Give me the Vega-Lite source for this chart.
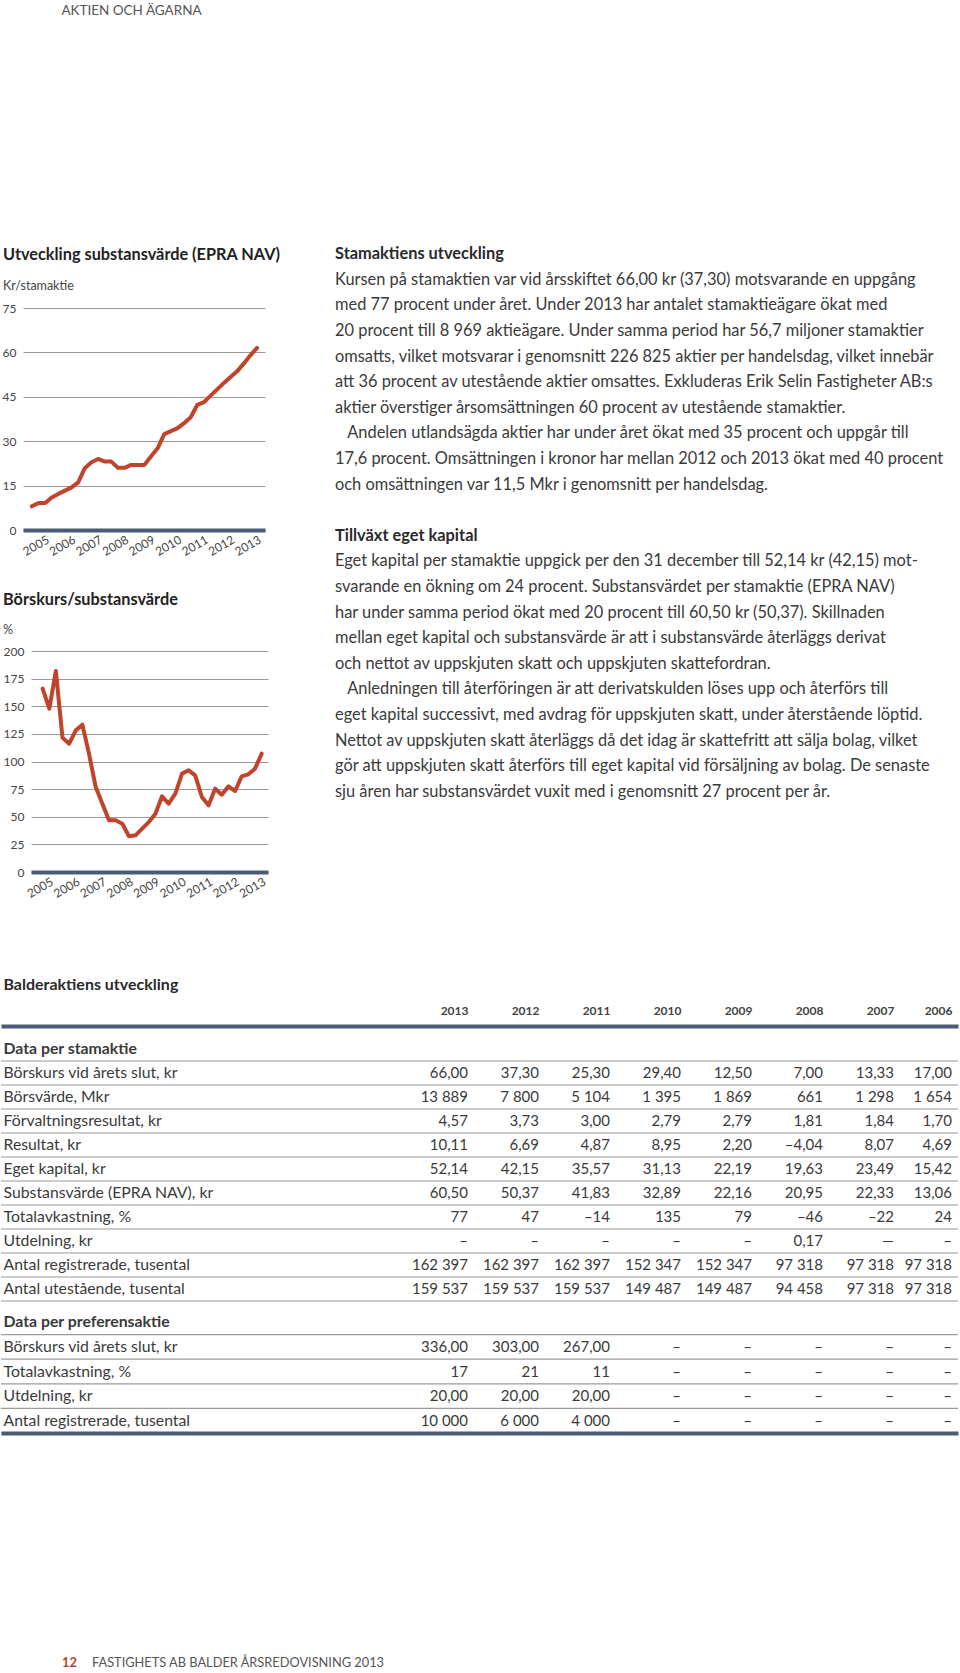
{
  "$schema": "https://vega.github.io/schema/vega-lite/v6.json",
  "padding": {"left": 0, "top": 3, "right": 0, "bottom": 0},
  "background": "white",
  "title": {"text": "AKTIEN OCH ÄGARNA", "anchor": "start", "frame": "bounds", "dx": 61, "fontSize": 13.5, "fontWeight": "normal", "color": "#555555", "offset": 229},
  "config": {
    "font": "Lato",
    "view": {"stroke": null},
    "axis": {"labelColor": "#444444"}
  },
  "datasets": {
    "nav": [
      {"date": "2005-06-30", "value": 8.0}, {"date": "2005-09-30", "value": 9.1}, {"date": "2005-12-31", "value": 9.1},
      {"date": "2006-03-31", "value": 11.0}, {"date": "2006-06-30", "value": 12.2}, {"date": "2006-09-30", "value": 13.3}, {"date": "2006-12-31", "value": 14.4},
      {"date": "2007-03-31", "value": 16.1}, {"date": "2007-06-30", "value": 20.9}, {"date": "2007-09-30", "value": 22.9}, {"date": "2007-12-31", "value": 24.0},
      {"date": "2008-03-31", "value": 23.1}, {"date": "2008-06-30", "value": 23.1}, {"date": "2008-09-30", "value": 21.0}, {"date": "2008-12-31", "value": 21.0},
      {"date": "2009-03-31", "value": 22.0}, {"date": "2009-06-30", "value": 22.0}, {"date": "2009-09-30", "value": 22.0}, {"date": "2009-12-31", "value": 24.9},
      {"date": "2010-03-31", "value": 27.6}, {"date": "2010-06-30", "value": 32.4}, {"date": "2010-09-30", "value": 33.4}, {"date": "2010-12-31", "value": 34.4},
      {"date": "2011-03-31", "value": 36.1}, {"date": "2011-06-30", "value": 38.1}, {"date": "2011-09-30", "value": 42.3}, {"date": "2011-12-31", "value": 43.2},
      {"date": "2012-03-31", "value": 45.4}, {"date": "2012-06-30", "value": 47.5}, {"date": "2012-09-30", "value": 49.7}, {"date": "2012-12-31", "value": 51.7},
      {"date": "2013-03-31", "value": 53.6}, {"date": "2013-06-30", "value": 56.2}, {"date": "2013-09-30", "value": 59.0}, {"date": "2013-12-31", "value": 61.5}
    ],
    "pnav": [
      {"date": "2005-09-30", "value": 165.9}, {"date": "2005-12-31", "value": 147.8},
      {"date": "2006-03-31", "value": 181.9}, {"date": "2006-06-30", "value": 121.6}, {"date": "2006-09-30", "value": 116.1}, {"date": "2006-12-31", "value": 128.2},
      {"date": "2007-03-31", "value": 133.3}, {"date": "2007-06-30", "value": 107.1}, {"date": "2007-09-30", "value": 76.9}, {"date": "2007-12-31", "value": 61.8},
      {"date": "2008-03-31", "value": 46.8}, {"date": "2008-06-30", "value": 46.8}, {"date": "2008-09-30", "value": 43.7}, {"date": "2008-12-31", "value": 32.3},
      {"date": "2009-03-31", "value": 33.2}, {"date": "2009-06-30", "value": 39.2}, {"date": "2009-09-30", "value": 45.2}, {"date": "2009-12-31", "value": 52.8},
      {"date": "2010-03-31", "value": 68.5}, {"date": "2010-06-30", "value": 61.8}, {"date": "2010-09-30", "value": 70.9}, {"date": "2010-12-31", "value": 89.0},
      {"date": "2011-03-31", "value": 92.0}, {"date": "2011-06-30", "value": 87.5}, {"date": "2011-09-30", "value": 67.9}, {"date": "2011-12-31", "value": 60.3},
      {"date": "2012-03-31", "value": 75.4}, {"date": "2012-06-30", "value": 70.0}, {"date": "2012-09-30", "value": 77.5}, {"date": "2012-12-31", "value": 73.3},
      {"date": "2013-03-31", "value": 86.6}, {"date": "2013-06-30", "value": 88.4}, {"date": "2013-09-30", "value": 93.5}, {"date": "2013-12-31", "value": 107.1}
    ],
    "text": [
      {"line": 0, "kind": "heading", "content": "Stamaktiens utveckling"},
      {"line": 1, "kind": "body", "content": "Kursen på stamaktien var vid årsskiftet 66,00 kr (37,30) motsvarande en uppgång"},
      {"line": 2, "kind": "body", "content": "med 77 procent under året. Under 2013 har antalet stamaktieägare ökat med"},
      {"line": 3, "kind": "body", "content": "20 procent till 8 969 aktieägare. Under samma period har 56,7 miljoner stamaktier"},
      {"line": 4, "kind": "body", "content": "omsatts, vilket motsvarar i genomsnitt 226 825 aktier per handelsdag, vilket innebär"},
      {"line": 5, "kind": "body", "content": "att 36 procent av utestående aktier omsattes. Exkluderas Erik Selin Fastigheter AB:s"},
      {"line": 6, "kind": "body", "content": "aktier överstiger årsomsättningen 60 procent av utestående stamaktier."},
      {"line": 7, "kind": "body", "content": "\u200b\u2003Andelen utlandsägda aktier har under året ökat med 35 procent och uppgår till"},
      {"line": 8, "kind": "body", "content": "17,6 procent. Omsättningen i kronor har mellan 2012 och 2013 ökat med 40 procent"},
      {"line": 9, "kind": "body", "content": "och omsättningen var 11,5 Mkr i genomsnitt per handelsdag."},
      {"line": 11, "kind": "heading", "content": "Tillväxt eget kapital"},
      {"line": 12, "kind": "body", "content": "Eget kapital per stamaktie uppgick per den 31 december till 52,14 kr (42,15) mot-"},
      {"line": 13, "kind": "body", "content": "svarande en ökning om 24 procent. Substansvärdet per stamaktie (EPRA NAV)"},
      {"line": 14, "kind": "body", "content": "har under samma period ökat med 20 procent till 60,50 kr (50,37). Skillnaden"},
      {"line": 15, "kind": "body", "content": "mellan eget kapital och substansvärde är att i substansvärde återläggs derivat"},
      {"line": 16, "kind": "body", "content": "och nettot av uppskjuten skatt och uppskjuten skattefordran."},
      {"line": 17, "kind": "body", "content": "\u200b\u2003Anledningen till återföringen är att derivatskulden löses upp och återförs till"},
      {"line": 18, "kind": "body", "content": "eget kapital successivt, med avdrag för uppskjuten skatt, under återstående löptid."},
      {"line": 19, "kind": "body", "content": "Nettot av uppskjuten skatt återläggs då det idag är skattefritt att sälja bolag, vilket"},
      {"line": 20, "kind": "body", "content": "gör att uppskjuten skatt återförs till eget kapital vid försäljning av bolag. De senaste"},
      {"line": 21, "kind": "body", "content": "sju åren har substansvärdet vuxit med i genomsnitt 27 procent per år."}
    ],
    "stamRows": [
      {"row": "Data per stamaktie"}, {"row": "Börskurs vid årets slut, kr"}, {"row": "Börsvärde, Mkr"}, {"row": "Förvaltningsresultat, kr"},
      {"row": "Resultat, kr"}, {"row": "Eget kapital, kr"}, {"row": "Substansvärde (EPRA NAV), kr"}, {"row": "Totalavkastning, %"},
      {"row": "Utdelning, kr"}, {"row": "Antal registrerade, tusental"}, {"row": "Antal utestående, tusental"}
    ],
    "stam": [
      {"row": "Börskurs vid årets slut, kr", "year": 2013, "value": "66,00"}, {"row": "Börskurs vid årets slut, kr", "year": 2012, "value": "37,30"},
      {"row": "Börskurs vid årets slut, kr", "year": 2011, "value": "25,30"}, {"row": "Börskurs vid årets slut, kr", "year": 2010, "value": "29,40"},
      {"row": "Börskurs vid årets slut, kr", "year": 2009, "value": "12,50"}, {"row": "Börskurs vid årets slut, kr", "year": 2008, "value": "7,00"},
      {"row": "Börskurs vid årets slut, kr", "year": 2007, "value": "13,33"}, {"row": "Börskurs vid årets slut, kr", "year": 2006, "value": "17,00"},
      {"row": "Börsvärde, Mkr", "year": 2013, "value": "13 889"}, {"row": "Börsvärde, Mkr", "year": 2012, "value": "7 800"},
      {"row": "Börsvärde, Mkr", "year": 2011, "value": "5 104"}, {"row": "Börsvärde, Mkr", "year": 2010, "value": "1 395"},
      {"row": "Börsvärde, Mkr", "year": 2009, "value": "1 869"}, {"row": "Börsvärde, Mkr", "year": 2008, "value": "661"},
      {"row": "Börsvärde, Mkr", "year": 2007, "value": "1 298"}, {"row": "Börsvärde, Mkr", "year": 2006, "value": "1 654"},
      {"row": "Förvaltningsresultat, kr", "year": 2013, "value": "4,57"}, {"row": "Förvaltningsresultat, kr", "year": 2012, "value": "3,73"},
      {"row": "Förvaltningsresultat, kr", "year": 2011, "value": "3,00"}, {"row": "Förvaltningsresultat, kr", "year": 2010, "value": "2,79"},
      {"row": "Förvaltningsresultat, kr", "year": 2009, "value": "2,79"}, {"row": "Förvaltningsresultat, kr", "year": 2008, "value": "1,81"},
      {"row": "Förvaltningsresultat, kr", "year": 2007, "value": "1,84"}, {"row": "Förvaltningsresultat, kr", "year": 2006, "value": "1,70"},
      {"row": "Resultat, kr", "year": 2013, "value": "10,11"}, {"row": "Resultat, kr", "year": 2012, "value": "6,69"},
      {"row": "Resultat, kr", "year": 2011, "value": "4,87"}, {"row": "Resultat, kr", "year": 2010, "value": "8,95"},
      {"row": "Resultat, kr", "year": 2009, "value": "2,20"}, {"row": "Resultat, kr", "year": 2008, "value": "–4,04"},
      {"row": "Resultat, kr", "year": 2007, "value": "8,07"}, {"row": "Resultat, kr", "year": 2006, "value": "4,69"},
      {"row": "Eget kapital, kr", "year": 2013, "value": "52,14"}, {"row": "Eget kapital, kr", "year": 2012, "value": "42,15"},
      {"row": "Eget kapital, kr", "year": 2011, "value": "35,57"}, {"row": "Eget kapital, kr", "year": 2010, "value": "31,13"},
      {"row": "Eget kapital, kr", "year": 2009, "value": "22,19"}, {"row": "Eget kapital, kr", "year": 2008, "value": "19,63"},
      {"row": "Eget kapital, kr", "year": 2007, "value": "23,49"}, {"row": "Eget kapital, kr", "year": 2006, "value": "15,42"},
      {"row": "Substansvärde (EPRA NAV), kr", "year": 2013, "value": "60,50"}, {"row": "Substansvärde (EPRA NAV), kr", "year": 2012, "value": "50,37"},
      {"row": "Substansvärde (EPRA NAV), kr", "year": 2011, "value": "41,83"}, {"row": "Substansvärde (EPRA NAV), kr", "year": 2010, "value": "32,89"},
      {"row": "Substansvärde (EPRA NAV), kr", "year": 2009, "value": "22,16"}, {"row": "Substansvärde (EPRA NAV), kr", "year": 2008, "value": "20,95"},
      {"row": "Substansvärde (EPRA NAV), kr", "year": 2007, "value": "22,33"}, {"row": "Substansvärde (EPRA NAV), kr", "year": 2006, "value": "13,06"},
      {"row": "Totalavkastning, %", "year": 2013, "value": "77"}, {"row": "Totalavkastning, %", "year": 2012, "value": "47"},
      {"row": "Totalavkastning, %", "year": 2011, "value": "–14"}, {"row": "Totalavkastning, %", "year": 2010, "value": "135"},
      {"row": "Totalavkastning, %", "year": 2009, "value": "79"}, {"row": "Totalavkastning, %", "year": 2008, "value": "–46"},
      {"row": "Totalavkastning, %", "year": 2007, "value": "–22"}, {"row": "Totalavkastning, %", "year": 2006, "value": "24"},
      {"row": "Utdelning, kr", "year": 2013, "value": "–"}, {"row": "Utdelning, kr", "year": 2012, "value": "–"},
      {"row": "Utdelning, kr", "year": 2011, "value": "–"}, {"row": "Utdelning, kr", "year": 2010, "value": "–"},
      {"row": "Utdelning, kr", "year": 2009, "value": "–"}, {"row": "Utdelning, kr", "year": 2008, "value": "0,17"},
      {"row": "Utdelning, kr", "year": 2007, "value": "—"}, {"row": "Utdelning, kr", "year": 2006, "value": "–"},
      {"row": "Antal registrerade, tusental", "year": 2013, "value": "162 397"}, {"row": "Antal registrerade, tusental", "year": 2012, "value": "162 397"},
      {"row": "Antal registrerade, tusental", "year": 2011, "value": "162 397"}, {"row": "Antal registrerade, tusental", "year": 2010, "value": "152 347"},
      {"row": "Antal registrerade, tusental", "year": 2009, "value": "152 347"}, {"row": "Antal registrerade, tusental", "year": 2008, "value": "97 318"},
      {"row": "Antal registrerade, tusental", "year": 2007, "value": "97 318"}, {"row": "Antal registrerade, tusental", "year": 2006, "value": "97 318"},
      {"row": "Antal utestående, tusental", "year": 2013, "value": "159 537"}, {"row": "Antal utestående, tusental", "year": 2012, "value": "159 537"},
      {"row": "Antal utestående, tusental", "year": 2011, "value": "159 537"}, {"row": "Antal utestående, tusental", "year": 2010, "value": "149 487"},
      {"row": "Antal utestående, tusental", "year": 2009, "value": "149 487"}, {"row": "Antal utestående, tusental", "year": 2008, "value": "94 458"},
      {"row": "Antal utestående, tusental", "year": 2007, "value": "97 318"}, {"row": "Antal utestående, tusental", "year": 2006, "value": "97 318"}
    ],
    "prefRows": [
      {"row": "Data per preferensaktie"}, {"row": "Börskurs vid årets slut, kr"}, {"row": "Totalavkastning, %"},
      {"row": "Utdelning, kr"}, {"row": "Antal registrerade, tusental"}
    ],
    "pref": [
      {"row": "Börskurs vid årets slut, kr", "year": 2013, "value": "336,00"}, {"row": "Börskurs vid årets slut, kr", "year": 2012, "value": "303,00"},
      {"row": "Börskurs vid årets slut, kr", "year": 2011, "value": "267,00"}, {"row": "Börskurs vid årets slut, kr", "year": 2010, "value": "–"},
      {"row": "Börskurs vid årets slut, kr", "year": 2009, "value": "–"}, {"row": "Börskurs vid årets slut, kr", "year": 2008, "value": "–"},
      {"row": "Börskurs vid årets slut, kr", "year": 2007, "value": "–"}, {"row": "Börskurs vid årets slut, kr", "year": 2006, "value": "–"},
      {"row": "Totalavkastning, %", "year": 2013, "value": "17"}, {"row": "Totalavkastning, %", "year": 2012, "value": "21"},
      {"row": "Totalavkastning, %", "year": 2011, "value": "11"}, {"row": "Totalavkastning, %", "year": 2010, "value": "–"},
      {"row": "Totalavkastning, %", "year": 2009, "value": "–"}, {"row": "Totalavkastning, %", "year": 2008, "value": "–"},
      {"row": "Totalavkastning, %", "year": 2007, "value": "–"}, {"row": "Totalavkastning, %", "year": 2006, "value": "–"},
      {"row": "Utdelning, kr", "year": 2013, "value": "20,00"}, {"row": "Utdelning, kr", "year": 2012, "value": "20,00"},
      {"row": "Utdelning, kr", "year": 2011, "value": "20,00"}, {"row": "Utdelning, kr", "year": 2010, "value": "–"},
      {"row": "Utdelning, kr", "year": 2009, "value": "–"}, {"row": "Utdelning, kr", "year": 2008, "value": "–"},
      {"row": "Utdelning, kr", "year": 2007, "value": "–"}, {"row": "Utdelning, kr", "year": 2006, "value": "–"},
      {"row": "Antal registrerade, tusental", "year": 2013, "value": "10 000"}, {"row": "Antal registrerade, tusental", "year": 2012, "value": "6 000"},
      {"row": "Antal registrerade, tusental", "year": 2011, "value": "4 000"}, {"row": "Antal registrerade, tusental", "year": 2010, "value": "–"},
      {"row": "Antal registrerade, tusental", "year": 2009, "value": "–"}, {"row": "Antal registrerade, tusental", "year": 2008, "value": "–"},
      {"row": "Antal registrerade, tusental", "year": 2007, "value": "–"}, {"row": "Antal registrerade, tusental", "year": 2006, "value": "–"}
    ],
    "footer": [
      {"part": "page", "label": "12"},
      {"part": "name", "label": "FASTIGHETS AB BALDER ÅRSREDOVISNING 2013"}
    ]
  },
  "columns": 1,
  "align": "none",
  "spacing": 222,
  "concat": [
    {
      "columns": 1,
      "align": "none",
      "spacing": 77,
      "concat": [
        {
          "align": "none",
          "spacing": 54,
          "concat": [
            {
              "columns": 1,
              "align": "none",
              "spacing": 34,
              "concat": [
                {
                  "width": 264,
                  "height": 222,
                  "title": {"text": "Utveckling substansvärde (EPRA NAV)", "subtitle": "Kr/stamaktie", "anchor": "start", "frame": "bounds", "dx": 2, "fontSize": 16.3, "fontWeight": "bold", "color": "#222222", "subtitleFontSize": 12.5, "subtitleColor": "#444444", "subtitlePadding": 16, "offset": 10},
                  "data": {"name": "nav"},
                  "mark": {"type": "line", "color": "#c0432b", "strokeWidth": 4, "strokeJoin": "round", "strokeCap": "round"},
                  "encoding": {
                    "x": {
                      "field": "date", "type": "temporal",
                      "scale": {"type": "utc", "nice": false, "range": [22, 264], "domain": [{"year": 2005, "month": 2, "date": 28, "utc": true}, {"year": 2014, "month": 4, "date": 20, "utc": true}]},
                      "axis": {"title": null, "labelExpr": "utcFormat(datum.value, '%Y')", "labelOverlap": false, "labelAngle": -30, "labelFontSize": 12, "ticks": false, "grid": false, "domainColor": "#4b5a75", "domainWidth": 4, "labelPadding": 4, "zindex": 1,
                        "values": [{"year": 2005, "month": 12, "date": 31, "utc": true}, {"year": 2006, "month": 12, "date": 31, "utc": true}, {"year": 2007, "month": 12, "date": 31, "utc": true}, {"year": 2008, "month": 12, "date": 31, "utc": true}, {"year": 2009, "month": 12, "date": 31, "utc": true}, {"year": 2010, "month": 12, "date": 31, "utc": true}, {"year": 2011, "month": 12, "date": 31, "utc": true}, {"year": 2012, "month": 12, "date": 31, "utc": true}, {"year": 2013, "month": 12, "date": 31, "utc": true}]}
                    },
                    "y": {
                      "field": "value", "type": "quantitative",
                      "scale": {"domain": [0, 75], "nice": false},
                      "axis": {"title": null, "values": [0, 15, 30, 45, 60, 75], "grid": true, "gridColor": "#9a9a9a", "domain": false, "ticks": false, "labelAlign": "right", "labelPadding": -15, "labelFontSize": 12}
                    }
                  }
                },
                {
                  "width": 267,
                  "height": 221,
                  "title": {"text": "Börskurs/substansvärde", "subtitle": "%", "anchor": "start", "frame": "bounds", "dx": 2, "fontSize": 16.3, "fontWeight": "bold", "color": "#222222", "subtitleFontSize": 12.5, "subtitleColor": "#444444", "subtitlePadding": 15, "offset": 9},
                  "data": {"name": "pnav"},
                  "mark": {"type": "line", "color": "#c0432b", "strokeWidth": 4, "strokeJoin": "round", "strokeCap": "round"},
                  "encoding": {
                    "x": {
                      "field": "date", "type": "temporal",
                      "scale": {"type": "utc", "nice": false, "range": [30, 267], "domain": [{"year": 2005, "month": 4, "date": 23, "utc": true}, {"year": 2014, "month": 3, "date": 28, "utc": true}]},
                      "axis": {"title": null, "labelExpr": "utcFormat(datum.value, '%Y')", "labelOverlap": false, "labelAngle": -30, "labelFontSize": 12, "ticks": false, "grid": false, "domainColor": "#4b5a75", "domainWidth": 4, "labelPadding": 4, "zindex": 1,
                        "values": [{"year": 2005, "month": 12, "date": 31, "utc": true}, {"year": 2006, "month": 12, "date": 31, "utc": true}, {"year": 2007, "month": 12, "date": 31, "utc": true}, {"year": 2008, "month": 12, "date": 31, "utc": true}, {"year": 2009, "month": 12, "date": 31, "utc": true}, {"year": 2010, "month": 12, "date": 31, "utc": true}, {"year": 2011, "month": 12, "date": 31, "utc": true}, {"year": 2012, "month": 12, "date": 31, "utc": true}, {"year": 2013, "month": 12, "date": 31, "utc": true}]}
                    },
                    "y": {
                      "field": "value", "type": "quantitative",
                      "scale": {"domain": [0, 200], "nice": false},
                      "axis": {"title": null, "values": [0, 25, 50, 75, 100, 125, 150, 175, 200], "grid": true, "gridColor": "#9a9a9a", "domain": false, "ticks": false, "labelAlign": "right", "labelPadding": -23, "labelFontSize": 12}
                    }
                  }
                }
              ]
            },
            {
              "width": 600,
              "height": 483.84,
              "data": {"name": "text"},
              "encoding": {
                "y": {"field": "line", "type": "quantitative", "scale": {"domain": [2.1, 21], "reverse": true, "nice": false, "zero": false}, "axis": null},
                "x": {"value": 0},
                "text": {"field": "content"}
              },
              "layer": [
                {"transform": [{"filter": "datum.kind === 'heading'"}], "mark": {"type": "text", "align": "left", "baseline": "middle", "fontSize": 16.4, "fontWeight": "bold", "color": "#2a2a2a"}},
                {"transform": [{"filter": "datum.kind === 'body'"}], "mark": {"type": "text", "align": "left", "baseline": "middle", "fontSize": 16.4, "color": "#3a3a3a"}}
              ]
            }
          ]
        },
        {
          "columns": 1,
          "align": "none",
          "spacing": 8,
          "concat": [
            {
              "width": 957,
              "height": 264,
              "title": {"text": "Balderaktiens utveckling", "anchor": "start", "frame": "bounds", "dx": 3, "fontSize": 16, "fontWeight": "bold", "color": "#2a2a2a", "offset": 11},
              "layer": [
                {
                  "data": {"name": "stamRows"},
                  "mark": {"type": "rule", "color": "#9a9a9a", "strokeWidth": 1.2},
                  "encoding": {
                    "y": {"field": "row", "type": "nominal", "bandPosition": 1, "sort": null,
                      "scale": {"domain": ["Data per stamaktie", "Börskurs vid årets slut, kr", "Börsvärde, Mkr", "Förvaltningsresultat, kr", "Resultat, kr", "Eget kapital, kr", "Substansvärde (EPRA NAV), kr", "Totalavkastning, %", "Utdelning, kr", "Antal registrerade, tusental", "Antal utestående, tusental"], "paddingInner": 0, "paddingOuter": 0},
                      "axis": {"title": null, "orient": "left", "labelAlign": "left", "labelPadding": -2, "ticks": false, "domain": false, "grid": false, "labelFontSize": 15.8, "labelColor": "#3a3a3a", "labelLimit": 500, "labelOverlap": false,
                        "labelFontWeight": {"condition": {"test": "datum.value === 'Data per stamaktie'", "value": "bold"}, "value": "normal"}}
                    }
                  }
                },
                {
                  "data": {"name": "stam"},
                  "mark": {"type": "text", "align": "right", "baseline": "middle", "fontSize": 15, "color": "#3a3a3a"},
                  "encoding": {
                    "y": {"field": "row", "type": "nominal", "sort": null},
                    "x": {
                      "field": "year", "type": "quantitative",
                      "scale": {"domain": [2005.9, 2006, 2007, 2013, 2019.577], "range": [957, 951, 893, 467, 0], "nice": false, "zero": false},
                      "axis": {"title": null, "orient": "top", "values": [2013, 2012, 2011, 2010, 2009, 2008, 2007, 2006], "format": "d", "labelAlign": "right", "labelFontWeight": "bold", "labelFontSize": 12, "labelColor": "#444444", "labelPadding": 9, "ticks": false, "grid": false, "domainColor": "#4b5a75", "domainWidth": 4, "offset": 11, "zindex": 1}
                    },
                    "text": {"field": "value"}
                  }
                }
              ]
            },
            {
              "width": 957,
              "height": 123,
              "layer": [
                {
                  "data": {"name": "prefRows"},
                  "mark": {"type": "rule", "color": "#9a9a9a", "strokeWidth": 1.2},
                  "encoding": {
                    "y": {"field": "row", "type": "nominal", "bandPosition": 1, "sort": null,
                      "scale": {"domain": ["Data per preferensaktie", "Börskurs vid årets slut, kr", "Totalavkastning, %", "Utdelning, kr", "Antal registrerade, tusental"], "paddingInner": 0, "paddingOuter": 0},
                      "axis": {"title": null, "orient": "left", "labelAlign": "left", "labelPadding": -2, "ticks": false, "domain": false, "grid": false, "labelFontSize": 15.8, "labelColor": "#3a3a3a", "labelLimit": 500, "labelOverlap": false,
                        "labelFontWeight": {"condition": {"test": "datum.value === 'Data per preferensaktie'", "value": "bold"}, "value": "normal"}}
                    }
                  }
                },
                {
                  "data": {"name": "pref"},
                  "mark": {"type": "text", "align": "right", "baseline": "middle", "fontSize": 15, "color": "#3a3a3a"},
                  "encoding": {
                    "y": {"field": "row", "type": "nominal", "sort": null},
                    "x": {
                      "field": "year", "type": "quantitative",
                      "scale": {"domain": [2005.9, 2006, 2007, 2013, 2019.577], "range": [957, 951, 893, 467, 0], "nice": false, "zero": false},
                      "axis": {"title": null, "orient": "bottom", "labels": false, "ticks": false, "grid": false, "domainColor": "#4b5a75", "domainWidth": 4, "zindex": 1}
                    },
                    "text": {"field": "value"}
                  }
                }
              ]
            }
          ]
        }
      ]
    },
    {
      "width": 400,
      "height": 14,
      "data": {"name": "footer"},
      "encoding": {
        "x": {"field": "part", "type": "nominal", "scale": {"type": "point", "domain": ["page", "name"], "range": [61, 91], "padding": 0}, "axis": null},
        "text": {"field": "label"}
      },
      "layer": [
        {"transform": [{"filter": "datum.part === 'page'"}], "mark": {"type": "text", "align": "left", "baseline": "middle", "fontSize": 12.8, "fontWeight": "bold", "color": "#b5442f"}},
        {"transform": [{"filter": "datum.part === 'name'"}], "mark": {"type": "text", "align": "left", "baseline": "middle", "fontSize": 12.8, "color": "#555555"}}
      ]
    }
  ]
}
